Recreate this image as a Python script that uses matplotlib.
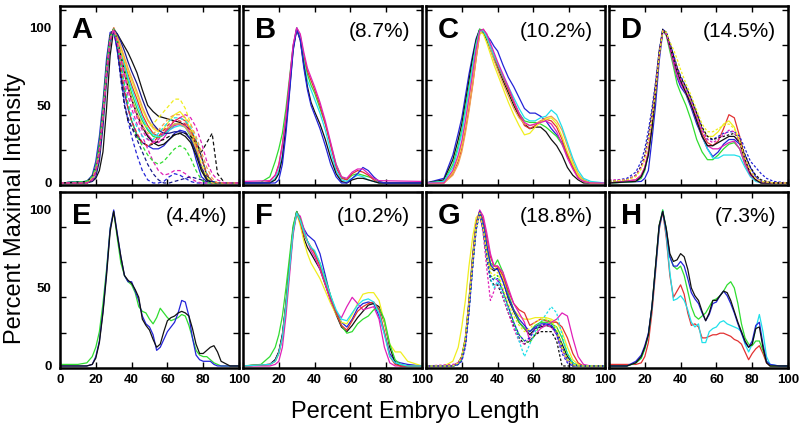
import matplotlib
matplotlib.use("Agg")
import matplotlib.pyplot as plt

plt.rcParams['font.family'] = ['Liberation Sans', 'DejaVu Sans']

panel_letters = ['A', 'B', 'C', 'D', 'E', 'F', 'G', 'H']
panel_notes = ['', '(8.7%)', '(10.2%)', '(14.5%)', '(4.4%)', '(10.2%)', '(18.8%)', '(7.3%)']
y_labels = [0, 50, 100]
x_labels = [0, 20, 40, 60, 80, 100]

# profiles: {percent embryo length: percent max intensity}
curves_A = {
    "black/solid": {0: 0, 18: 1, 20: 3, 22: 8, 24: 20, 26: 48, 28: 82, 30: 99, 32: 96, 34: 92, 36: 88, 38: 84, 40: 79, 43: 71, 46: 60, 49: 50, 52: 46, 55: 43, 58: 42, 61: 41, 64: 40, 67: 39, 70: 37, 73: 34, 76: 27, 79: 17, 82: 5, 85: 1, 88: 0, 100: 0},
    "blue/solid": {0: 0, 15: 1, 18: 5, 20: 14, 22: 30, 24: 52, 26: 80, 28: 97, 30: 98, 32: 85, 34: 70, 36: 58, 38: 48, 40: 40, 43: 31, 46: 26, 49: 24, 52: 22, 55: 22, 58: 24, 61: 28, 64: 32, 67: 34, 70: 33, 73: 28, 76: 15, 79: 4, 82: 1, 85: 0, 100: 0},
    "green/solid": {0: 0, 15: 1, 18: 4, 20: 11, 22: 26, 24: 48, 26: 76, 28: 95, 30: 99, 32: 92, 34: 82, 36: 74, 38: 66, 40: 58, 43: 48, 46: 40, 49: 34, 52: 30, 55: 29, 58: 31, 61: 35, 64: 38, 67: 38, 70: 36, 73: 30, 76: 20, 79: 8, 82: 2, 85: 0, 100: 0},
    "red/solid": {0: 0, 15: 0, 18: 2, 20: 7, 22: 20, 24: 42, 26: 70, 28: 92, 30: 100, 32: 94, 34: 86, 36: 78, 38: 70, 40: 63, 43: 54, 46: 44, 49: 37, 52: 32, 55: 30, 58: 32, 61: 36, 64: 40, 67: 42, 70: 40, 73: 34, 76: 24, 79: 10, 82: 3, 85: 0, 100: 0},
    "magenta/solid": {0: 0, 15: 0, 18: 3, 20: 9, 22: 22, 24: 45, 26: 73, 28: 94, 30: 99, 32: 90, 34: 80, 36: 70, 38: 61, 40: 54, 43: 45, 46: 37, 49: 31, 52: 27, 55: 26, 58: 29, 61: 34, 64: 37, 67: 38, 70: 37, 73: 32, 76: 22, 79: 9, 82: 2, 85: 0, 100: 0},
    "cyan/solid": {0: 0, 15: 1, 18: 4, 20: 10, 22: 24, 24: 46, 26: 74, 28: 94, 30: 99, 32: 93, 34: 84, 36: 76, 38: 68, 40: 61, 43: 51, 46: 42, 49: 35, 52: 31, 55: 30, 58: 31, 61: 34, 64: 36, 67: 37, 70: 36, 73: 31, 76: 22, 79: 10, 82: 3, 85: 1, 88: 0, 100: 0},
    "yellow/solid": {0: 0, 15: 0, 18: 3, 20: 8, 22: 21, 24: 43, 26: 71, 28: 92, 30: 99, 32: 94, 34: 86, 36: 79, 38: 72, 40: 66, 43: 57, 46: 47, 49: 40, 52: 35, 55: 33, 58: 35, 61: 40, 64: 44, 67: 46, 70: 42, 73: 34, 76: 22, 79: 9, 82: 2, 85: 0, 100: 0},
    "orange/solid": {0: 0, 15: 0, 18: 2, 20: 7, 22: 19, 24: 41, 26: 69, 28: 91, 30: 100, 32: 95, 34: 88, 36: 81, 38: 74, 40: 68, 43: 59, 46: 49, 49: 41, 52: 36, 55: 34, 58: 34, 61: 36, 64: 38, 67: 38, 70: 36, 73: 31, 76: 22, 79: 10, 82: 3, 85: 0, 100: 0},
    "navy/solid": {0: 0, 15: 0, 18: 1, 20: 4, 22: 14, 24: 36, 26: 66, 28: 90, 30: 99, 32: 96, 34: 91, 36: 85, 38: 78, 40: 72, 43: 64, 46: 54, 49: 45, 52: 38, 55: 34, 58: 32, 61: 32, 64: 33, 67: 33, 70: 32, 73: 28, 76: 20, 79: 10, 82: 3, 85: 0, 100: 0},
    "black/solid2": {0: 0, 15: 1, 18: 4, 20: 10, 22: 24, 24: 47, 26: 75, 28: 95, 30: 99, 32: 92, 34: 82, 36: 72, 38: 62, 40: 54, 43: 44, 46: 36, 49: 30, 52: 26, 55: 24, 58: 25, 61: 28, 64: 31, 67: 32, 70: 30, 73: 26, 76: 18, 79: 8, 82: 2, 85: 0, 100: 0},
    "blue/dashed": {0: 0, 15: 1, 18: 4, 20: 10, 22: 24, 24: 46, 26: 74, 28: 94, 30: 99, 32: 86, 34: 68, 36: 52, 38: 40, 40: 30, 43: 18, 46: 8, 49: 2, 52: 0, 55: 0, 58: 1, 61: 4, 64: 6, 67: 5, 70: 3, 73: 1, 76: 0, 100: 0},
    "black/dashed": {0: 0, 15: 0, 18: 2, 20: 7, 22: 20, 24: 42, 26: 70, 28: 92, 30: 99, 32: 88, 34: 70, 36: 50, 38: 40, 40: 36, 43: 30, 46: 26, 49: 24, 52: 25, 55: 27, 58: 28, 61: 30, 64: 31, 67: 32, 70: 32, 73: 30, 76: 26, 79: 20, 82: 26, 85: 32, 88: 6, 92: 0, 100: 0},
    "magenta/dashed": {0: 0, 15: 0, 18: 2, 20: 8, 22: 21, 24: 44, 26: 72, 28: 93, 30: 99, 32: 90, 34: 78, 36: 66, 38: 56, 40: 48, 43: 38, 46: 30, 49: 22, 52: 14, 55: 8, 58: 5, 61: 6, 64: 8, 67: 8, 70: 6, 73: 3, 76: 1, 79: 0, 100: 0},
    "cyan/dashed": {0: 0, 15: 1, 18: 3, 20: 9, 22: 22, 24: 44, 26: 72, 28: 93, 30: 99, 32: 90, 34: 78, 36: 64, 38: 52, 40: 44, 43: 36, 46: 30, 49: 28, 52: 28, 55: 32, 58: 36, 61: 40, 64: 42, 67: 42, 70: 40, 73: 36, 76: 28, 79: 16, 82: 6, 85: 1, 88: 0, 100: 0},
    "green/dashed": {0: 0, 15: 1, 18: 4, 20: 10, 22: 23, 24: 45, 26: 73, 28: 94, 30: 99, 32: 90, 34: 76, 36: 62, 38: 50, 40: 40, 43: 30, 46: 24, 49: 18, 52: 14, 55: 12, 58: 14, 61: 18, 64: 22, 67: 24, 70: 22, 73: 16, 76: 8, 79: 2, 82: 0, 100: 0},
    "yellow/dashed": {0: 0, 15: 0, 18: 2, 20: 7, 22: 20, 24: 42, 26: 70, 28: 92, 30: 99, 32: 92, 34: 82, 36: 72, 38: 62, 40: 54, 43: 44, 46: 38, 49: 36, 52: 38, 55: 42, 58: 46, 61: 50, 64: 54, 67: 54, 70: 48, 73: 38, 76: 26, 79: 12, 82: 4, 85: 0, 100: 0},
    "red/dashed": {0: 0, 15: 0, 18: 2, 20: 7, 22: 20, 24: 42, 26: 70, 28: 92, 30: 99, 32: 88, 34: 74, 36: 60, 38: 48, 40: 40, 43: 32, 46: 26, 49: 24, 52: 26, 55: 30, 58: 34, 61: 38, 64: 40, 67: 40, 70: 38, 73: 34, 76: 26, 79: 16, 82: 6, 85: 1, 88: 0, 100: 0},
    "navy/dashed": {0: 0, 15: 0, 18: 2, 20: 8, 22: 20, 24: 43, 26: 71, 28: 93, 30: 99, 32: 86, 34: 66, 36: 50, 38: 42, 40: 36, 43: 28, 46: 20, 49: 12, 52: 6, 55: 2, 58: 0, 61: 0, 64: 1, 67: 2, 70: 3, 73: 4, 76: 3, 79: 2, 82: 1, 85: 1, 88: 0, 100: 0},
    "orange/dashed": {0: 0, 15: 0, 18: 3, 20: 9, 22: 22, 24: 44, 26: 72, 28: 93, 30: 99, 32: 92, 34: 82, 36: 72, 38: 62, 40: 54, 43: 44, 46: 36, 49: 32, 52: 32, 55: 34, 58: 38, 61: 42, 64: 44, 67: 44, 70: 42, 73: 38, 76: 30, 79: 20, 82: 10, 85: 3, 88: 0, 100: 0},
    "magenta/dashed2": {0: 0, 15: 0, 18: 2, 20: 7, 22: 20, 24: 42, 26: 70, 28: 92, 30: 99, 32: 90, 34: 80, 36: 70, 38: 60, 40: 52, 43: 42, 46: 34, 49: 28, 52: 26, 55: 28, 58: 32, 61: 36, 64: 40, 67: 42, 70: 44, 73: 42, 76: 36, 79: 26, 82: 14, 85: 6, 88: 2, 92: 0, 100: 0},
}

curves_B = {
    "green/solid": {0: 0, 10: 0.5, 15: 4, 18: 14, 20: 22, 22: 32, 24: 48, 26: 68, 28: 88, 30: 99, 32: 94, 34: 80, 36: 70, 38: 63, 40: 58, 43: 48, 46: 38, 49: 25, 52: 12, 55: 4, 58: 2, 61: 5, 64: 6, 67: 5, 70: 4, 73: 3, 76: 1, 79: 0, 100: 0},
    "red/solid": {0: 0, 10: 0, 15: 1, 18: 5, 20: 12, 22: 25, 24: 42, 26: 65, 28: 88, 30: 100, 32: 95, 34: 82, 36: 72, 38: 66, 40: 60, 43: 50, 46: 38, 49: 24, 52: 10, 55: 3, 58: 2, 61: 6, 64: 8, 67: 7, 70: 5, 73: 2, 76: 0, 100: 0},
    "cyan/solid": {0: 0, 15: 0, 18: 3, 20: 8, 22: 18, 24: 38, 26: 62, 28: 87, 30: 100, 32: 94, 34: 78, 36: 66, 38: 60, 40: 54, 43: 45, 46: 34, 49: 20, 52: 8, 55: 2, 58: 1, 61: 3, 64: 5, 67: 4, 70: 2, 73: 1, 76: 0, 100: 0},
    "black/solid": {0: 0, 15: 0, 18: 2, 20: 6, 22: 16, 24: 36, 26: 60, 28: 86, 30: 99, 32: 92, 34: 76, 36: 62, 38: 52, 40: 46, 43: 38, 46: 28, 49: 16, 52: 6, 55: 1, 58: 0, 61: 2, 64: 3, 67: 3, 70: 2, 73: 1, 76: 0, 100: 0},
    "blue/solid": {0: 0, 18: 0, 20: 2, 22: 12, 24: 32, 26: 58, 28: 85, 30: 99, 32: 92, 34: 74, 36: 60, 38: 50, 40: 44, 43: 35, 46: 24, 49: 12, 52: 4, 55: 0, 58: 0, 61: 3, 64: 6, 67: 10, 70: 8, 73: 4, 76: 1, 79: 0, 100: 0},
    "magenta/solid": {0: 1, 15: 1.5, 18: 5, 20: 11, 22: 24, 24: 42, 26: 66, 28: 89, 30: 100, 32: 96, 34: 84, 36: 74, 38: 68, 40: 62, 43: 52, 46: 40, 49: 26, 52: 12, 55: 4, 58: 3, 61: 7, 64: 9, 67: 9, 70: 6, 73: 3, 76: 1.5, 100: 1},
}

curves_C = {
    "blue/solid": {0: 0, 10: 3, 15: 18, 18: 32, 20: 42, 22: 56, 24: 70, 26: 82, 28: 93, 30: 99, 32: 98, 34: 95, 36: 92, 38: 88, 40: 85, 43: 76, 46: 68, 49: 62, 52: 55, 55: 48, 58: 45, 61: 45, 64: 43, 67: 40, 70: 35, 73: 31, 76: 26, 79: 18, 82: 11, 85: 5, 88: 1, 92: 0, 100: 0},
    "black/solid": {0: 0, 10: 2, 15: 15, 18: 28, 20: 38, 22: 52, 24: 66, 26: 80, 28: 92, 30: 99, 32: 97, 34: 92, 36: 86, 38: 80, 40: 74, 43: 66, 46: 58, 49: 50, 52: 43, 55: 38, 58: 35, 61: 36, 64: 36, 67: 33, 70: 28, 73: 24, 76: 18, 79: 10, 82: 5, 85: 2, 88: 0, 100: 0},
    "green/solid": {0: 0, 10: 1, 15: 12, 18: 24, 20: 34, 22: 48, 24: 62, 26: 76, 28: 90, 30: 99, 32: 98, 34: 93, 36: 87, 38: 81, 40: 76, 43: 68, 46: 60, 49: 52, 52: 45, 55: 40, 58: 39, 61: 39, 64: 38, 67: 36, 70: 33, 73: 30, 76: 25, 79: 18, 82: 11, 85: 5, 88: 2, 92: 0, 100: 0},
    "red/solid": {0: 0, 10: 0, 15: 6, 18: 14, 20: 22, 22: 34, 24: 48, 26: 63, 28: 80, 30: 96, 32: 99, 34: 95, 36: 88, 38: 82, 40: 76, 43: 68, 46: 60, 49: 52, 52: 44, 55: 37, 58: 35, 61: 37, 64: 40, 67: 41, 70: 40, 73: 36, 76: 28, 79: 18, 82: 10, 85: 4, 88: 1, 92: 0, 100: 0},
    "orange/solid": {0: 0, 10: 0, 15: 5, 18: 12, 20: 20, 22: 32, 24: 46, 26: 62, 28: 80, 30: 96, 32: 99, 34: 94, 36: 86, 38: 79, 40: 73, 43: 64, 46: 56, 49: 48, 52: 42, 55: 38, 58: 37, 61: 38, 64: 40, 67: 42, 70: 43, 73: 40, 76: 34, 79: 24, 82: 14, 85: 6, 88: 2, 92: 0, 100: 0},
    "yellow/solid": {0: 0, 10: 0, 15: 7, 18: 16, 20: 25, 22: 38, 24: 53, 26: 70, 28: 86, 30: 97, 32: 96, 34: 90, 36: 83, 38: 76, 40: 70, 43: 61, 46: 52, 49: 44, 52: 37, 55: 31, 58: 32, 61: 36, 64: 39, 67: 41, 70: 42, 73: 38, 76: 30, 79: 20, 82: 12, 85: 5, 88: 1, 92: 0, 100: 0},
    "cyan/solid": {0: 0, 10: 1, 15: 10, 18: 22, 20: 32, 22: 46, 24: 60, 26: 75, 28: 89, 30: 98, 32: 98, 34: 94, 36: 88, 38: 82, 40: 77, 43: 69, 46: 62, 49: 55, 52: 48, 55: 42, 58: 40, 61: 40, 64: 42, 67: 43, 70: 47, 73: 44, 76: 36, 79: 26, 82: 16, 85: 8, 88: 3, 92: 1, 100: 0},
    "magenta/solid": {0: 0, 10: 0, 15: 8, 18: 18, 20: 27, 22: 40, 24: 55, 26: 70, 28: 86, 30: 98, 32: 99, 34: 96, 36: 90, 38: 84, 40: 78, 43: 70, 46: 62, 49: 53, 52: 45, 55: 39, 58: 37, 61: 38, 64: 39, 67: 40, 70: 38, 73: 33, 76: 25, 79: 16, 82: 9, 85: 3, 88: 1, 92: 0, 100: 0},
}

curves_D = {
    "blue/solid": {0: 0, 18: 1, 20: 3, 22: 8, 24: 28, 26: 50, 28: 78, 30: 97, 32: 97, 34: 88, 36: 78, 38: 68, 40: 62, 43: 57, 46: 48, 49: 38, 52: 30, 55: 22, 58: 17, 61: 20, 64: 25, 67: 28, 70: 28, 73: 25, 76: 18, 79: 10, 82: 4, 85: 1, 88: 0, 100: 0},
    "green/solid": {0: 0, 15: 1, 18: 3, 20: 8, 22: 20, 24: 38, 26: 60, 28: 84, 30: 98, 32: 95, 34: 85, 36: 75, 38: 64, 40: 58, 43: 50, 46: 40, 49: 28, 52: 20, 55: 15, 58: 15, 61: 18, 64: 22, 67: 25, 70: 26, 73: 22, 76: 12, 79: 5, 82: 2, 85: 0, 100: 0},
    "red/solid": {0: 0, 15: 2, 18: 5, 20: 10, 22: 20, 24: 36, 26: 58, 28: 82, 30: 98, 32: 96, 34: 88, 36: 80, 38: 72, 40: 65, 43: 58, 46: 50, 49: 42, 52: 32, 55: 26, 58: 24, 61: 27, 64: 35, 67: 44, 70: 42, 73: 30, 76: 15, 79: 6, 82: 2, 85: 0, 100: 0},
    "yellow/solid": {0: 0, 15: 1, 18: 4, 20: 9, 22: 18, 24: 35, 26: 58, 28: 82, 30: 98, 32: 96, 34: 89, 36: 82, 38: 75, 40: 68, 43: 60, 46: 52, 49: 44, 52: 35, 55: 30, 58: 30, 61: 33, 64: 38, 67: 40, 70: 36, 73: 26, 76: 14, 79: 6, 82: 2, 85: 0, 100: 0},
    "cyan/solid": {0: 0, 15: 1, 18: 4, 20: 9, 22: 18, 24: 36, 26: 58, 28: 82, 30: 98, 32: 96, 34: 88, 36: 80, 38: 72, 40: 66, 43: 58, 46: 50, 49: 40, 52: 30, 55: 22, 58: 16, 61: 16, 64: 18, 67: 18, 70: 18, 73: 17, 76: 10, 79: 4, 82: 1, 85: 0, 100: 0},
    "magenta/solid": {0: 0, 15: 2, 18: 5, 20: 10, 22: 20, 24: 37, 26: 60, 28: 83, 30: 98, 32: 96, 34: 87, 36: 77, 38: 69, 40: 64, 43: 58, 46: 50, 49: 40, 52: 30, 55: 24, 58: 22, 61: 22, 64: 24, 67: 26, 70: 27, 73: 22, 76: 12, 79: 5, 82: 2, 85: 0, 100: 0},
    "black/solid": {0: 0, 15: 1, 18: 4, 20: 9, 22: 18, 24: 35, 26: 58, 28: 82, 30: 98, 32: 96, 34: 88, 36: 80, 38: 72, 40: 66, 43: 58, 46: 50, 49: 40, 52: 30, 55: 24, 58: 24, 61: 26, 64: 28, 67: 30, 70: 30, 73: 26, 76: 15, 79: 6, 82: 2, 85: 0, 100: 0},
    "blue/dotted": {0: 1, 10: 3, 15: 7, 18: 14, 20: 22, 22: 34, 24: 48, 26: 65, 28: 85, 30: 99, 32: 97, 34: 90, 36: 83, 38: 75, 40: 69, 43: 62, 46: 54, 49: 45, 52: 35, 55: 28, 58: 28, 61: 30, 64: 32, 67: 33, 70: 33, 73: 30, 76: 22, 79: 14, 82: 10, 85: 6, 88: 3, 92: 1, 100: 0},
    "black/dotted": {0: 1, 10: 2, 15: 5, 18: 11, 20: 18, 22: 30, 24: 45, 26: 63, 28: 84, 30: 99, 32: 97, 34: 90, 36: 82, 38: 74, 40: 68, 43: 62, 46: 54, 49: 45, 52: 36, 55: 30, 58: 28, 61: 29, 64: 30, 67: 31, 70: 32, 73: 28, 76: 18, 79: 10, 82: 5, 85: 2, 88: 1, 92: 0, 100: 0},
    "magenta/dotted": {0: 2, 10: 2, 15: 5, 18: 10, 20: 16, 22: 27, 24: 42, 26: 60, 28: 82, 30: 98, 32: 96, 34: 88, 36: 80, 38: 73, 40: 67, 43: 60, 46: 52, 49: 43, 52: 34, 55: 28, 58: 26, 61: 28, 64: 31, 67: 34, 70: 33, 73: 26, 76: 15, 79: 7, 82: 3, 85: 1, 92: 0, 100: 0},
    "yellow/dotted": {0: 1, 10: 2, 15: 4, 18: 9, 20: 15, 22: 26, 24: 41, 26: 60, 28: 82, 30: 98, 32: 97, 34: 91, 36: 86, 38: 80, 40: 73, 43: 64, 46: 56, 49: 47, 52: 38, 55: 33, 58: 33, 61: 35, 64: 37, 67: 38, 70: 35, 73: 27, 76: 16, 79: 8, 82: 3, 85: 1, 92: 0, 100: 0},
}

curves_E = {
    "green/solid": {0: 1, 10: 1, 15: 2, 18: 6, 20: 12, 22: 22, 24: 40, 26: 62, 28: 88, 30: 99, 32: 82, 34: 66, 36: 58, 38: 54, 40: 52, 42: 47, 44: 38, 46: 35, 48: 34, 50: 30, 52: 27, 54: 31, 56: 37, 58: 34, 60: 31, 62: 29, 64: 30, 66: 31, 68: 33, 70: 32, 72: 26, 74: 18, 76: 10, 78: 7, 80: 6, 82: 6, 84: 4, 86: 2, 88: 1, 90: 0, 100: 0},
    "blue/solid": {0: 0, 15: 0, 18: 1, 20: 6, 22: 16, 24: 35, 26: 60, 28: 88, 30: 100, 32: 85, 34: 70, 36: 58, 38: 54, 40: 54, 42: 48, 44: 42, 46: 32, 48: 27, 50: 25, 52: 20, 54: 10, 56: 12, 58: 17, 60: 22, 62: 25, 64: 28, 66: 34, 68: 42, 70: 41, 72: 32, 74: 18, 76: 7, 78: 4, 80: 3, 82: 3, 84: 3, 86: 1, 88: 0, 100: 0},
    "black/solid": {0: 0, 15: 0, 18: 1, 20: 5, 22: 15, 24: 34, 26: 58, 28: 86, 30: 99, 32: 84, 34: 70, 36: 58, 38: 55, 40: 53, 42: 49, 44: 44, 46: 30, 48: 26, 50: 23, 52: 17, 54: 12, 56: 14, 58: 22, 60: 29, 62: 31, 64: 32, 66: 34, 68: 35, 70: 34, 72: 32, 74: 24, 76: 14, 78: 8, 80: 8, 82: 10, 84: 12, 86: 13, 88: 9, 90: 3, 95: 0, 100: 0},
}

curves_F = {
    "blue/solid": {0: 0, 15: 1, 18: 4, 20: 9, 22: 20, 24: 40, 26: 65, 28: 88, 30: 99, 32: 94, 34: 88, 36: 84, 38: 82, 40: 80, 43: 72, 46: 58, 49: 44, 52: 35, 55: 28, 58: 25, 61: 30, 64: 37, 67: 40, 70: 41, 73: 40, 76: 32, 79: 21, 82: 8, 85: 3, 88: 2, 92: 1, 100: 0},
    "black/solid": {0: 0, 15: 1, 18: 4, 20: 9, 22: 20, 24: 40, 26: 65, 28: 88, 30: 99, 32: 92, 34: 82, 36: 76, 38: 72, 40: 68, 43: 62, 46: 52, 49: 42, 52: 33, 55: 25, 58: 22, 61: 26, 64: 31, 67: 35, 70: 39, 73: 40, 76: 38, 79: 28, 82: 12, 85: 2, 88: 0, 100: 0},
    "yellow/solid": {0: 0, 15: 1, 18: 3, 20: 8, 22: 18, 24: 38, 26: 62, 28: 86, 30: 98, 32: 90, 34: 80, 36: 72, 38: 66, 40: 62, 43: 56, 46: 48, 49: 40, 52: 33, 55: 28, 58: 27, 61: 33, 64: 40, 67: 46, 70: 47, 73: 47, 76: 42, 79: 28, 82: 14, 85: 9, 88: 9, 92: 3, 100: 0},
    "magenta/solid": {0: 0, 15: 0, 18: 1, 20: 3, 22: 12, 24: 32, 26: 58, 28: 84, 30: 98, 32: 96, 34: 88, 36: 80, 38: 74, 40: 70, 43: 62, 46: 52, 49: 42, 52: 34, 55: 31, 58: 38, 61: 44, 64: 40, 67: 36, 70: 37, 73: 38, 76: 30, 79: 12, 82: 2, 85: 0, 100: 0},
    "green/solid": {0: 0, 10: 1, 15: 6, 18: 12, 20: 20, 22: 32, 24: 50, 26: 70, 28: 90, 30: 99, 32: 94, 34: 86, 36: 80, 38: 76, 40: 73, 43: 66, 46: 56, 49: 45, 52: 34, 55: 26, 58: 21, 61: 22, 64: 27, 67: 30, 70: 32, 73: 36, 76: 37, 79: 30, 82: 14, 85: 4, 88: 1, 92: 0, 100: 0},
    "red/solid": {0: 0, 15: 1, 18: 3, 20: 8, 22: 18, 24: 38, 26: 62, 28: 86, 30: 98, 32: 92, 34: 84, 36: 80, 38: 76, 40: 72, 43: 64, 46: 54, 49: 44, 52: 34, 55: 26, 58: 23, 61: 29, 64: 35, 67: 38, 70: 40, 73: 41, 76: 36, 79: 22, 82: 6, 85: 1, 88: 0, 100: 0},
    "cyan/solid": {0: 0, 15: 1, 18: 3, 20: 8, 22: 18, 24: 38, 26: 62, 28: 86, 30: 98, 32: 93, 34: 86, 36: 80, 38: 76, 40: 74, 43: 66, 46: 55, 49: 45, 52: 36, 55: 30, 58: 29, 61: 34, 64: 39, 67: 42, 70: 43, 73: 41, 76: 34, 79: 20, 82: 6, 85: 2, 88: 1, 92: 0, 100: 0},
}

curves_G = {
    "black/solid": {0: 0, 15: 0, 18: 2, 20: 6, 22: 18, 24: 42, 26: 70, 28: 92, 30: 99, 32: 90, 34: 75, 36: 63, 38: 61, 40: 63, 43: 55, 46: 43, 49: 35, 52: 28, 55: 24, 58: 20, 61: 24, 64: 25, 67: 26, 70: 25, 73: 22, 76: 14, 79: 6, 82: 2, 85: 0, 100: 0},
    "yellow/solid": {0: 0, 10: 0, 15: 3, 18: 12, 20: 25, 22: 42, 24: 64, 26: 82, 28: 95, 30: 98, 32: 88, 34: 74, 36: 63, 38: 62, 40: 64, 43: 56, 46: 45, 49: 36, 52: 32, 55: 30, 58: 30, 61: 31, 64: 31, 67: 31, 70: 30, 73: 28, 76: 22, 79: 12, 82: 4, 85: 1, 88: 0, 100: 0},
    "green/solid": {0: 0, 15: 0, 18: 2, 20: 6, 22: 18, 24: 40, 26: 68, 28: 90, 30: 99, 32: 91, 34: 77, 36: 66, 38: 64, 40: 68, 43: 60, 46: 46, 49: 36, 52: 28, 55: 24, 58: 22, 61: 26, 64: 28, 67: 28, 70: 27, 73: 25, 76: 18, 79: 8, 82: 2, 85: 0, 100: 0},
    "red/solid": {0: 0, 15: 0, 18: 2, 20: 6, 22: 17, 24: 40, 26: 68, 28: 90, 30: 99, 32: 94, 34: 82, 36: 70, 38: 64, 40: 64, 43: 58, 46: 48, 49: 40, 52: 36, 55: 34, 58: 26, 61: 28, 64: 30, 67: 29, 70: 28, 73: 28, 76: 25, 79: 18, 82: 8, 85: 2, 88: 0, 100: 0},
    "magenta/solid": {0: 0, 15: 0, 18: 2, 20: 5, 22: 15, 24: 38, 26: 66, 28: 90, 30: 100, 32: 96, 34: 85, 36: 72, 38: 64, 40: 64, 43: 60, 46: 50, 49: 40, 52: 34, 55: 28, 58: 16, 61: 20, 64: 24, 67: 26, 70: 28, 73: 30, 76: 34, 79: 32, 82: 18, 85: 6, 88: 1, 92: 0, 100: 0},
    "blue/solid": {0: 0, 15: 0, 18: 1, 20: 4, 22: 14, 24: 36, 26: 64, 28: 89, 30: 99, 32: 91, 34: 77, 36: 65, 38: 62, 40: 62, 43: 54, 46: 44, 49: 36, 52: 30, 55: 26, 58: 22, 61: 25, 64: 27, 67: 27, 70: 26, 73: 22, 76: 12, 79: 4, 82: 1, 85: 0, 100: 0},
    "black/dotted": {0: 0, 15: 0, 18: 1, 20: 4, 22: 14, 24: 36, 26: 64, 28: 88, 30: 98, 32: 86, 34: 68, 36: 55, 38: 52, 40: 52, 43: 44, 46: 34, 49: 26, 52: 18, 55: 14, 58: 16, 61: 20, 64: 22, 67: 22, 70: 22, 73: 16, 76: 0, 100: 0},
    "magenta/dotted": {0: 0, 15: 1, 18: 2, 20: 5, 22: 15, 24: 38, 26: 66, 28: 90, 30: 98, 32: 84, 34: 62, 36: 42, 38: 48, 40: 55, 43: 44, 46: 34, 49: 24, 52: 16, 55: 14, 58: 18, 61: 24, 64: 26, 67: 26, 70: 25, 73: 20, 76: 10, 79: 3, 82: 1, 85: 0, 100: 0},
    "cyan/dotted": {0: 0, 15: 0, 18: 1, 20: 4, 22: 14, 24: 36, 26: 64, 28: 88, 30: 98, 32: 88, 34: 70, 36: 56, 38: 50, 40: 54, 43: 46, 46: 36, 49: 28, 52: 16, 55: 6, 58: 14, 61: 22, 64: 28, 67: 33, 70: 38, 73: 34, 76: 20, 79: 8, 82: 2, 85: 0, 100: 0},
    "green/dotted": {0: 0, 15: 0, 18: 1, 20: 4, 22: 14, 24: 36, 26: 64, 28: 88, 30: 98, 32: 88, 34: 72, 36: 58, 38: 56, 40: 58, 43: 48, 46: 38, 49: 28, 52: 20, 55: 16, 58: 15, 61: 20, 64: 28, 67: 30, 70: 28, 73: 22, 76: 12, 79: 4, 82: 1, 85: 0, 100: 0},
    "blue/dotted": {0: 0, 15: 0, 18: 1, 20: 3, 22: 12, 24: 34, 26: 62, 28: 87, 30: 98, 32: 87, 34: 70, 36: 57, 38: 55, 40: 56, 43: 48, 46: 38, 49: 28, 52: 20, 55: 16, 58: 18, 61: 24, 64: 26, 67: 27, 70: 26, 73: 20, 76: 8, 79: 2, 82: 0, 100: 0},
    "yellow/dotted": {0: 0, 15: 0, 18: 2, 20: 6, 22: 18, 24: 40, 26: 66, 28: 89, 30: 98, 32: 88, 34: 72, 36: 60, 38: 58, 40: 60, 43: 50, 46: 40, 49: 32, 52: 26, 55: 22, 58: 24, 61: 28, 64: 30, 67: 30, 70: 29, 73: 24, 76: 12, 79: 4, 82: 1, 85: 0, 100: 0},
}

curves_H = {
    "red/solid": {0: 1, 15: 1, 18: 2, 20: 6, 22: 15, 24: 34, 26: 60, 28: 87, 30: 99, 32: 82, 34: 58, 36: 44, 38: 48, 40: 52, 42: 46, 44: 34, 46: 26, 48: 27, 50: 25, 52: 18, 54: 18, 56: 19, 58: 20, 60: 20, 62: 21, 64: 21, 66: 20, 68: 19, 70: 17, 72: 16, 74: 14, 76: 9, 78: 4, 80: 8, 82: 11, 84: 13, 86: 8, 88: 2, 90: 0, 100: 0},
    "cyan/solid": {0: 0, 10: 0, 15: 2, 18: 5, 20: 11, 22: 20, 24: 37, 26: 62, 28: 88, 30: 100, 32: 84, 34: 60, 36: 42, 38: 43, 40: 45, 42: 42, 44: 36, 46: 28, 48: 25, 50: 27, 52: 15, 54: 15, 56: 22, 58: 24, 60: 25, 62: 28, 64: 29, 66: 27, 68: 26, 70: 25, 72: 24, 74: 22, 76: 14, 78: 9, 80: 14, 82: 24, 84: 33, 86: 22, 88: 6, 90: 1, 95: 0, 100: 0},
    "green/solid": {0: 0, 10: 0, 15: 2, 18: 5, 20: 11, 22: 20, 24: 38, 26: 64, 28: 90, 30: 100, 32: 88, 34: 70, 36: 64, 38: 62, 40: 64, 42: 58, 44: 48, 46: 38, 48: 32, 50: 30, 52: 32, 54: 34, 56: 38, 58: 42, 60: 43, 62: 45, 64: 48, 66: 52, 68: 54, 70: 50, 72: 40, 74: 27, 76: 18, 78: 14, 80: 13, 82: 16, 84: 16, 86: 10, 88: 3, 90: 0, 100: 0},
    "blue/solid": {0: 0, 10: 0, 15: 3, 18: 7, 20: 13, 22: 21, 24: 38, 26: 63, 28: 89, 30: 99, 32: 87, 34: 70, 36: 64, 38: 64, 40: 67, 42: 64, 44: 56, 46: 47, 48: 43, 50: 40, 52: 34, 54: 29, 56: 33, 58: 40, 60: 41, 62: 45, 64: 48, 66: 45, 68: 40, 70: 34, 72: 27, 74: 21, 76: 15, 78: 12, 80: 16, 82: 26, 84: 28, 86: 14, 88: 3, 90: 1, 95: 0, 100: 0},
    "black/solid": {0: 0, 10: 0, 15: 2, 18: 6, 20: 12, 22: 20, 24: 38, 26: 64, 28: 90, 30: 99, 32: 88, 34: 72, 36: 67, 38: 68, 40: 72, 42: 70, 44: 62, 46: 50, 48: 45, 50: 42, 52: 35, 54: 29, 56: 34, 58: 42, 60: 42, 62: 45, 64: 48, 66: 47, 68: 42, 70: 35, 72: 28, 74: 22, 76: 16, 78: 12, 80: 14, 82: 24, 84: 25, 86: 12, 88: 2, 90: 0, 100: 0},
}

panels = [curves_A, curves_B, curves_C, curves_D, curves_E, curves_F, curves_G, curves_H]

COLORS = {"black": "#111111", "blue": "#2323d8", "navy": "#1a1a8c", "green": "#30dd30",
          "red": "#e23232", "magenta": "#e020b8", "cyan": "#20e0ea", "yellow": "#f0ee20",
          "orange": "#f0a050"}
DASHES = {"solid": "-", "solid2": "-", "dashed": (0, (3, 2)), "dashed2": (0, (3, 2)),
          "dotted": (0, (2, 1.5))}

W, H = 800, 430
fig = plt.figure(figsize=(W / 100, H / 100), dpi=100)

for i, curves in enumerate(panels):
    row, col = divmod(i, 4)
    left = 60 + col * 183
    top, bottom = (6, 185) if row == 0 else (192, 368)
    ax = fig.add_axes([left / W, (H - bottom) / H, 179 / W, (bottom - top) / H])

    for key, pts in curves.items():
        cname, kind = key.split('/')
        ax.plot(list(pts.keys()), list(pts.values()), color=COLORS[cname],
                ls=DASHES[kind], lw=0.9)

    ax.set_xlim(0, 100)
    ax.set_ylim(-1.3, 114 if row == 0 else 111.5)

    ax.set_xticks(x_labels)
    if row == 1:
        labs = [str(v) for v in x_labels]
        if col > 0:
            labs[0] = ''
        ax.set_xticklabels(labs, fontweight='bold', fontsize=9.5)
    else:
        ax.set_xticklabels([])
    ax.tick_params(axis='x', direction='in', top=True, length=4, width=1, pad=4)

    ax.set_yticks(y_labels)
    if col == 0:
        ax.set_yticklabels([str(v) for v in y_labels], fontweight='bold', fontsize=9.5)
    else:
        ax.set_yticklabels([])
    ax.tick_params(axis='y', which='major', length=0, pad=6)
    ax.set_yticks([21, 44, 66.5, 89, 111.5], minor=True)
    ax.tick_params(axis='y', which='minor', direction='in', left=True, right=True,
                   length=4, width=1)

    for sp in ax.spines.values():
        sp.set_linewidth(1.8)

    ax.text(0.065, 0.945, panel_letters[i], transform=ax.transAxes, ha='left', va='top',
            fontsize=21, fontweight='bold')
    if panel_notes[i]:
        ax.text(0.935, 0.86, panel_notes[i], transform=ax.transAxes, ha='right',
                va='center', fontsize=15)

fig.text(15 / W, 1 - 209 / H, 'Percent Maximal Intensity', rotation=90,
         ha='center', va='center', fontsize=17)
fig.text(415 / W, 1 - 412 / H, 'Percent Embryo Length', ha='center', va='center',
         fontsize=17)

fig.savefig('out.png', dpi=100)
